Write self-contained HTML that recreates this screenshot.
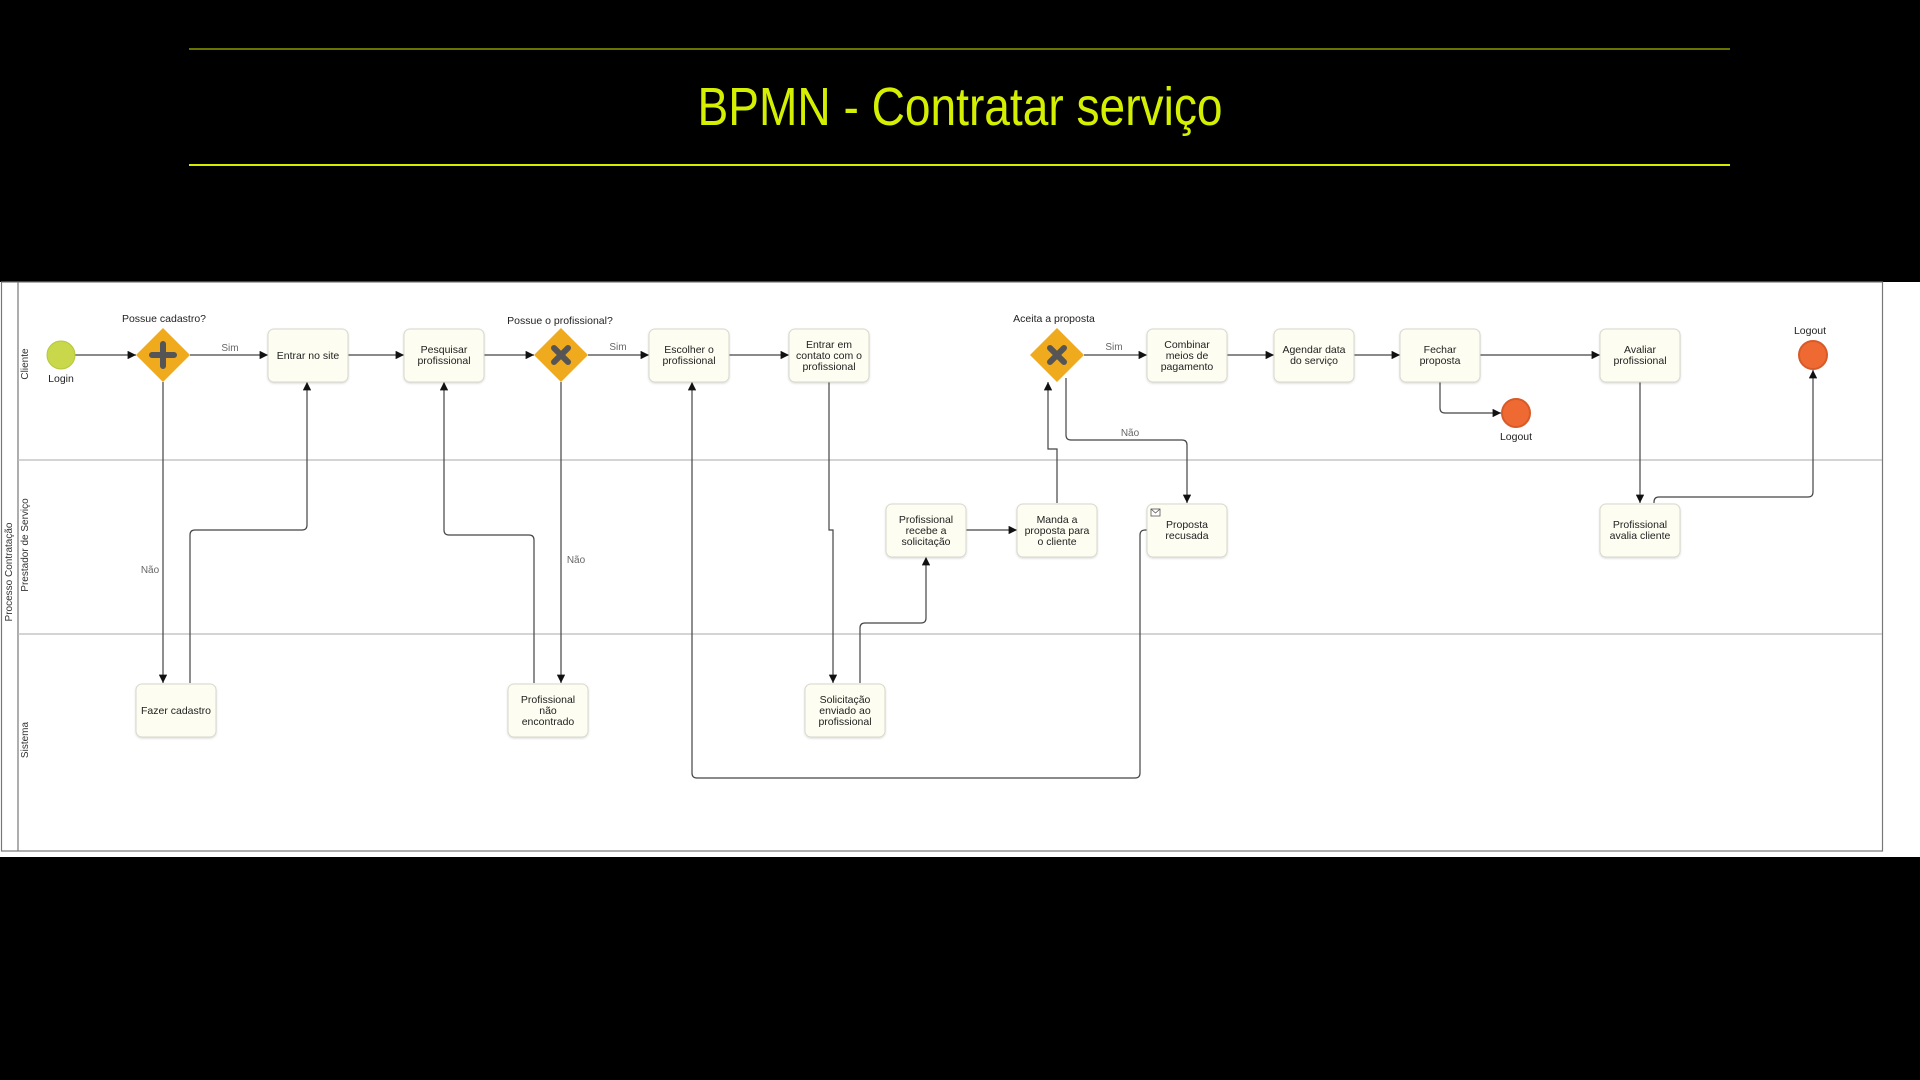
<!DOCTYPE html>
<html><head><meta charset="utf-8"><style>
html,body{margin:0;padding:0;background:#000;width:1920px;height:1080px;overflow:hidden}
svg{display:block}
text{font-family:"Liberation Sans",sans-serif}
.t{font-size:10.5px;fill:#222;text-anchor:middle}
.l{font-size:10px;fill:#666;text-anchor:middle}
.box{fill:#fdfdf1;stroke:#d8d8cc;stroke-width:1}
.e{fill:none;stroke:#444;stroke-width:1.2}
</style></head><body>
<svg width="1920" height="1080" viewBox="0 0 1920 1080" xmlns="http://www.w3.org/2000/svg">
<defs>
<marker id="a" viewBox="0 0 10 10" refX="10" refY="5" markerWidth="7" markerHeight="7" orient="auto"><path d="M0,0L10,5L0,10z" fill="#111"/></marker>
<filter id="sh" x="-10%" y="-10%" width="130%" height="130%"><feDropShadow dx="0" dy="1" stdDeviation="1" flood-opacity="0.15"/></filter>
</defs>
<rect width="1920" height="1080" fill="#000"/>
<line x1="189" y1="49" x2="1730" y2="49" stroke="#8a9a00" stroke-width="1.5"/>
<line x1="189" y1="165" x2="1730" y2="165" stroke="#d4ec00" stroke-width="2"/>
<text x="960" y="125" text-anchor="middle" font-size="54" fill="#d4f000" textLength="525" lengthAdjust="spacingAndGlyphs">BPMN - Contratar serviço</text>

<rect x="0" y="282" width="1920" height="575" fill="#fff"/>
<rect x="1.5" y="282" width="1881" height="569" fill="#fff" stroke="#777" stroke-width="1.2"/>
<line x1="18" y1="282" x2="18" y2="851" stroke="#777" stroke-width="1.2"/>
<line x1="18" y1="460" x2="1882" y2="460" stroke="#bbb" stroke-width="1.2"/>
<line x1="18" y1="634" x2="1882" y2="634" stroke="#bbb" stroke-width="1.2"/>
<text transform="translate(12,572) rotate(-90)" font-size="10" fill="#333" text-anchor="middle">Processo Contratação</text>
<text transform="translate(28,364) rotate(-90)" font-size="10" fill="#333" text-anchor="middle">Cliente</text>
<text transform="translate(28,545) rotate(-90)" font-size="10" fill="#333" text-anchor="middle">Prestador de Serviço</text>
<text transform="translate(28,740) rotate(-90)" font-size="10" fill="#333" text-anchor="middle">Sistema</text>

<!-- edges -->
<g class="e" marker-end="url(#a)">
<path d="M75,355H136"/>
<path d="M190,355H268"/>
<path d="M163,382V683"/>
<path d="M190,683V535Q190,530 195,530H302Q307,530 307,525V382"/>
<path d="M348,355H404"/>
<path d="M484,355H534"/>
<path d="M588,355H649"/>
<path d="M561,382V683"/>
<path d="M534,683V540Q534,535 529,535H449Q444,535 444,530V382"/>
<path d="M729,355H789"/>
<path d="M829,382V530H833V683"/>
<path d="M860,683V628Q860,623 865,623H921Q926,623 926,618V557"/>
<path d="M966,530H1017"/>
<path d="M1057,503V449H1048V382"/>
<path d="M1084,355H1147"/>
<path d="M1066,378V435Q1066,440 1071,440H1182Q1187,440 1187,445V503"/>
<path d="M1147,530H1145Q1140,530 1140,535V773Q1140,778 1135,778H697Q692,778 692,773V382"/>
<path d="M1227,355H1274"/>
<path d="M1354,355H1400"/>
<path d="M1480,355H1600"/>
<path d="M1440,382V408Q1440,413 1445,413H1501"/>
<path d="M1640,382V503"/>
<path d="M1654,503V502Q1654,497 1659,497H1808Q1813,497 1813,492V370"/>
</g>
<text class="l" x="230" y="351">Sim</text>
<text class="l" x="150" y="573">Não</text>
<text class="l" x="618" y="350">Sim</text>
<text class="l" x="576" y="563">Não</text>
<text class="l" x="1114" y="350">Sim</text>
<text class="l" x="1130" y="436">Não</text>

<!-- events -->
<circle cx="61" cy="355" r="14" fill="#c8d84a" stroke="#b6c63c"/>
<text class="t" x="61" y="382">Login</text>
<circle cx="1516" cy="413" r="14" fill="#ef6a33" stroke="#d85a28" stroke-width="2"/>
<text class="t" x="1516" y="440">Logout</text>
<circle cx="1813" cy="355" r="14" fill="#ef6a33" stroke="#d85a28" stroke-width="2"/>
<text class="t" x="1810" y="334">Logout</text>

<!-- gateways -->
<g>
<path d="M163,328L190,355L163,382L136,355z" fill="#f0aa1e"/>
<path d="M163,344V366M152,355H174" stroke="#555" stroke-width="6" stroke-linecap="round"/>
<text class="t" x="164" y="322">Possue cadastro?</text>
<path d="M561,328L588,355L561,382L534,355z" fill="#f0aa1e"/>
<path d="M554,348L568,362M568,348L554,362" stroke="#555" stroke-width="6" stroke-linecap="round"/>
<text class="t" x="560" y="324">Possue o profissional?</text>
<path d="M1057,328L1084,355L1057,382L1030,355z" fill="#f0aa1e"/>
<path d="M1050,348L1064,362M1064,348L1050,362" stroke="#555" stroke-width="6" stroke-linecap="round"/>
<text class="t" x="1054" y="322">Aceita a proposta</text>
</g>

<!-- tasks -->
<g filter="url(#sh)">
<rect class="box" x="268" y="329" width="80" height="53" rx="6"/>
<rect class="box" x="404" y="329" width="80" height="53" rx="6"/>
<rect class="box" x="649" y="329" width="80" height="53" rx="6"/>
<rect class="box" x="789" y="329" width="80" height="53" rx="6"/>
<rect class="box" x="1147" y="329" width="80" height="53" rx="6"/>
<rect class="box" x="1274" y="329" width="80" height="53" rx="6"/>
<rect class="box" x="1400" y="329" width="80" height="53" rx="6"/>
<rect class="box" x="1600" y="329" width="80" height="53" rx="6"/>
<rect class="box" x="886" y="504" width="80" height="53" rx="6"/>
<rect class="box" x="1017" y="504" width="80" height="53" rx="6"/>
<rect class="box" x="1147" y="504" width="80" height="53" rx="6"/>
<rect class="box" x="1600" y="504" width="80" height="53" rx="6"/>
<rect class="box" x="136" y="684" width="80" height="53" rx="6"/>
<rect class="box" x="508" y="684" width="80" height="53" rx="6"/>
<rect class="box" x="805" y="684" width="80" height="53" rx="6"/>
</g>
<rect x="1151" y="509" width="9" height="7" fill="#fff" stroke="#555" stroke-width="0.8"/>
<path d="M1151,509L1155.5,513L1160,509" fill="none" stroke="#555" stroke-width="0.8"/>

<text class="t" x="308" y="359">Entrar no site</text>
<text class="t" x="444" y="353">Pesquisar<tspan x="444" dy="11">profissional</tspan></text>
<text class="t" x="689" y="353">Escolher o<tspan x="689" dy="11">profissional</tspan></text>
<text class="t" x="829" y="348">Entrar em<tspan x="829" dy="11">contato com o</tspan><tspan x="829" dy="11">profissional</tspan></text>
<text class="t" x="1187" y="348">Combinar<tspan x="1187" dy="11">meios de</tspan><tspan x="1187" dy="11">pagamento</tspan></text>
<text class="t" x="1314" y="353">Agendar data<tspan x="1314" dy="11">do serviço</tspan></text>
<text class="t" x="1440" y="353">Fechar<tspan x="1440" dy="11">proposta</tspan></text>
<text class="t" x="1640" y="353">Avaliar<tspan x="1640" dy="11">profissional</tspan></text>
<text class="t" x="926" y="523">Profissional<tspan x="926" dy="11">recebe a</tspan><tspan x="926" dy="11">solicitação</tspan></text>
<text class="t" x="1057" y="523">Manda a<tspan x="1057" dy="11">proposta para</tspan><tspan x="1057" dy="11">o cliente</tspan></text>
<text class="t" x="1187" y="528">Proposta<tspan x="1187" dy="11">recusada</tspan></text>
<text class="t" x="1640" y="528">Profissional<tspan x="1640" dy="11">avalia cliente</tspan></text>
<text class="t" x="176" y="714">Fazer cadastro</text>
<text class="t" x="548" y="703">Profissional<tspan x="548" dy="11">não</tspan><tspan x="548" dy="11">encontrado</tspan></text>
<text class="t" x="845" y="703">Solicitação<tspan x="845" dy="11">enviado ao</tspan><tspan x="845" dy="11">profissional</tspan></text>
</svg>
</body></html>
